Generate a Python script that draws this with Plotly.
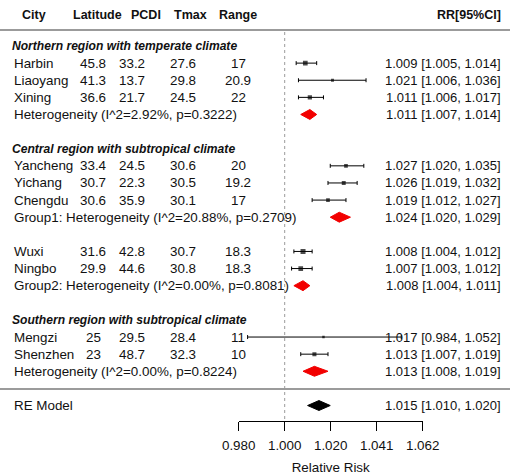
import numpy as np
import plotly.graph_objects as go

# ---------------- data ----------------
cities = ["Harbin", "Liaoyang", "Xining", "Yancheng", "Yichang", "Chengdu",
          "Wuxi", "Ningbo", "Mengzi", "Shenzhen"]
latitude = [45.8, 41.3, 36.6, 33.4, 30.7, 30.6, 31.6, 29.9, 25, 23]
pcdi = [33.2, 13.7, 21.7, 24.5, 22.3, 35.9, 42.8, 44.6, 29.5, 48.7]
tmax = [27.6, 29.8, 24.5, 30.6, 30.5, 30.1, 30.7, 30.8, 28.4, 32.3]
trange = [17, 20.9, 22, 20, 19.2, 17, 18.3, 18.3, 11, 10]
rr = [1.009, 1.021, 1.011, 1.027, 1.026, 1.019, 1.008, 1.007, 1.017, 1.013]
rr_lb = [1.005, 1.006, 1.006, 1.020, 1.019, 1.012, 1.004, 1.003, 0.984, 1.007]
rr_ub = [1.014, 1.036, 1.017, 1.035, 1.032, 1.027, 1.012, 1.012, 1.052, 1.019]

group_labels = ["Northern region with temperate climate",
                "Central region with subtropical climate",
                "Southern region with subtropical climate"]
sum_labels = ["Heterogeneity (I^2=2.92%, p=0.3222)",
              "Group1: Heterogeneity (I^2=20.88%, p=0.2709)",
              "Group2: Heterogeneity (I^2=0.00%, p=0.8081)",
              "Heterogeneity (I^2=0.00%, p=0.8224)"]
sum_rr = [1.011, 1.024, 1.008, 1.013]
sum_lb = [1.007, 1.020, 1.004, 1.008]
sum_ub = [1.014, 1.029, 1.011, 1.019]
overall_label = "RE Model"
overall_rr, overall_lb, overall_ub = 1.015, 1.010, 1.020

col_headers = ["City", "Latitude", "PCDI", "Tmax", "Range"]
rr_header = "RR[95%CI]"
tick_labels = ["0.980", "1.000", "1.020", "1.041", "1.062"]
x_title = "Relative Risk"

# ---------------- layout of rows ----------------
sequence = [("group", 0), ("study", 0), ("study", 1), ("study", 2), ("summary", 0), ("blank", None),
            ("group", 1), ("study", 3), ("study", 4), ("study", 5), ("summary", 1), ("blank", None),
            ("study", 6), ("study", 7), ("summary", 2), ("blank", None),
            ("group", 2), ("study", 8), ("study", 9), ("summary", 3), ("blank", None),
            ("overall", None)]

W, H = 510, 475
ROW0_PX, ROW_PX = 46.0, 17.12   # pixel of row 0 and row step
def k_of(px):
    return (px - ROW0_PX) / ROW_PX

study_rows, sum_rows, group_rows = {}, {}, {}
overall_row = None
for k, (kind, idx) in enumerate(sequence):
    if kind == "study":
        study_rows[idx] = k
    elif kind == "summary":
        sum_rows[idx] = k
    elif kind == "group":
        group_rows[idx] = k
    elif kind == "overall":
        overall_row = k

FONT = "Liberation Sans, Arial, sans-serif"
TXT = "#111111"
FS = 13.4      # main text size
FS_R = 13.0    # right column size
annotations = []
def add_text(px, k, text, anchor="left", size=FS):
    annotations.append(dict(x=px / W, xref="paper", y=k, yref="y", text=text,
                            showarrow=False, xanchor=anchor, yanchor="middle",
                            borderpad=0,
                            font=dict(family=FONT, size=size, color=TXT)))

# header row
hk = k_of(15)
add_text(21, hk, "<b>" + col_headers[0] + "</b>", "left", 12.5)
for px, t in zip([97, 146, 190, 238], col_headers[1:]):
    add_text(px, hk, "<b>" + t + "</b>", "center", 12.5)
add_text(502, hk, "<b>" + rr_header + "</b>", "right", 12.5)

fmt = lambda v: f"{v:g}"
ci_txt = lambda a, b, c: f"{a:.3f} [{b:.3f}, {c:.3f}]"

for g, k in group_rows.items():
    add_text(11, k, "<b><i>" + group_labels[g] + "</i></b>", "left", 12.1)

for i, k in study_rows.items():
    add_text(13, k, cities[i], "left")
    add_text(93, k, fmt(latitude[i]), "center")
    add_text(132, k, fmt(pcdi[i]), "center")
    add_text(183, k, fmt(tmax[i]), "center")
    add_text(238, k, fmt(trange[i]), "center")
    add_text(502, k, ci_txt(rr[i], rr_lb[i], rr_ub[i]), "right", FS_R)

for j, k in sum_rows.items():
    add_text(13, k, sum_labels[j], "left")
    add_text(502, k, ci_txt(sum_rr[j], sum_lb[j], sum_ub[j]), "right", FS_R)

add_text(13, overall_row, overall_label, "left")
add_text(502, overall_row, ci_txt(overall_rr, overall_lb, overall_ub), "right", FS_R)

# ---------------- traces ----------------
fig = go.Figure()

lr = np.log(rr)
llb = np.log(rr_lb)
lub = np.log(rr_ub)
se = (lub - llb) / (2 * 1.96)
sw = np.sqrt(1 / se ** 2)
msize = 2.5 + 2.5 * (sw - sw.min()) / (sw.max() - sw.min())
ys = [study_rows[i] for i in range(len(cities))]

fig.add_trace(go.Scatter(
    x=lr, y=ys, mode="markers",
    marker=dict(symbol="square", size=msize, color="black", line=dict(width=0)),
    error_x=dict(type="data", symmetric=False, array=lub - lr, arrayminus=lr - llb,
                 color="black", thickness=1, width=2),
    hoverinfo="skip"))

HALF = 0.29
def diamond(est, lb, ub, k, color):
    e, l, u = np.log(est), np.log(lb), np.log(ub)
    fig.add_trace(go.Scatter(
        x=[l, e, u, e, l], y=[k, k - HALF, k, k + HALF, k],
        mode="lines", fill="toself", fillcolor=color,
        line=dict(color=color, width=1), hoverinfo="skip"))

for j, k in sum_rows.items():
    diamond(sum_rr[j], sum_lb[j], sum_ub[j], k, "#f20000")
diamond(overall_rr, overall_lb, overall_ub, overall_row, "black")

# ---------------- shapes ----------------
shapes = [
    dict(type="line", xref="paper", x0=0, x1=1, yref="y", y0=k_of(30), y1=k_of(30),
         line=dict(color="#7a7a7a", width=1.6)),
    dict(type="line", xref="paper", x0=0, x1=1, yref="y", y0=k_of(389), y1=k_of(389),
         line=dict(color="#7a7a7a", width=1.6)),
    dict(type="line", xref="x", x0=0, x1=0, yref="y", y0=k_of(32), y1=k_of(421),
         line=dict(color="#9a9a9a", width=1, dash="dot")),
]

tickvals = np.round(np.log([float(t) for t in tick_labels]), 2)

fig.update_layout(
    width=W, height=H, margin=dict(l=0, r=0, t=0, b=0, pad=0),
    paper_bgcolor="white", plot_bgcolor="white", showlegend=False,
    annotations=annotations, shapes=shapes,
    xaxis=dict(domain=[238.7 / W, 422.7 / W], range=[-0.02, 0.06],
               anchor="free", position=1 - 421 / H,
               tickmode="array", tickvals=tickvals, ticktext=tick_labels,
               ticks="outside", ticklen=9, tickwidth=1, tickcolor="black",
               ticklabelstandoff=3,
               showline=True, linecolor="black", linewidth=1,
               showgrid=False, zeroline=False, fixedrange=True,
               tickfont=dict(family=FONT, size=FS, color=TXT),
               title=dict(text=x_title, font=dict(family=FONT, size=FS, color=TXT), standoff=14),
               automargin=False),
    yaxis=dict(range=[k_of(H), k_of(0)], visible=False, showgrid=False,
               zeroline=False, fixedrange=True, domain=[0, 1]),
)

fig.write_html("out.html", config={"displayModeBar": False},
               post_script="document.body.style.margin='0px';document.body.style.overflow='hidden';")
